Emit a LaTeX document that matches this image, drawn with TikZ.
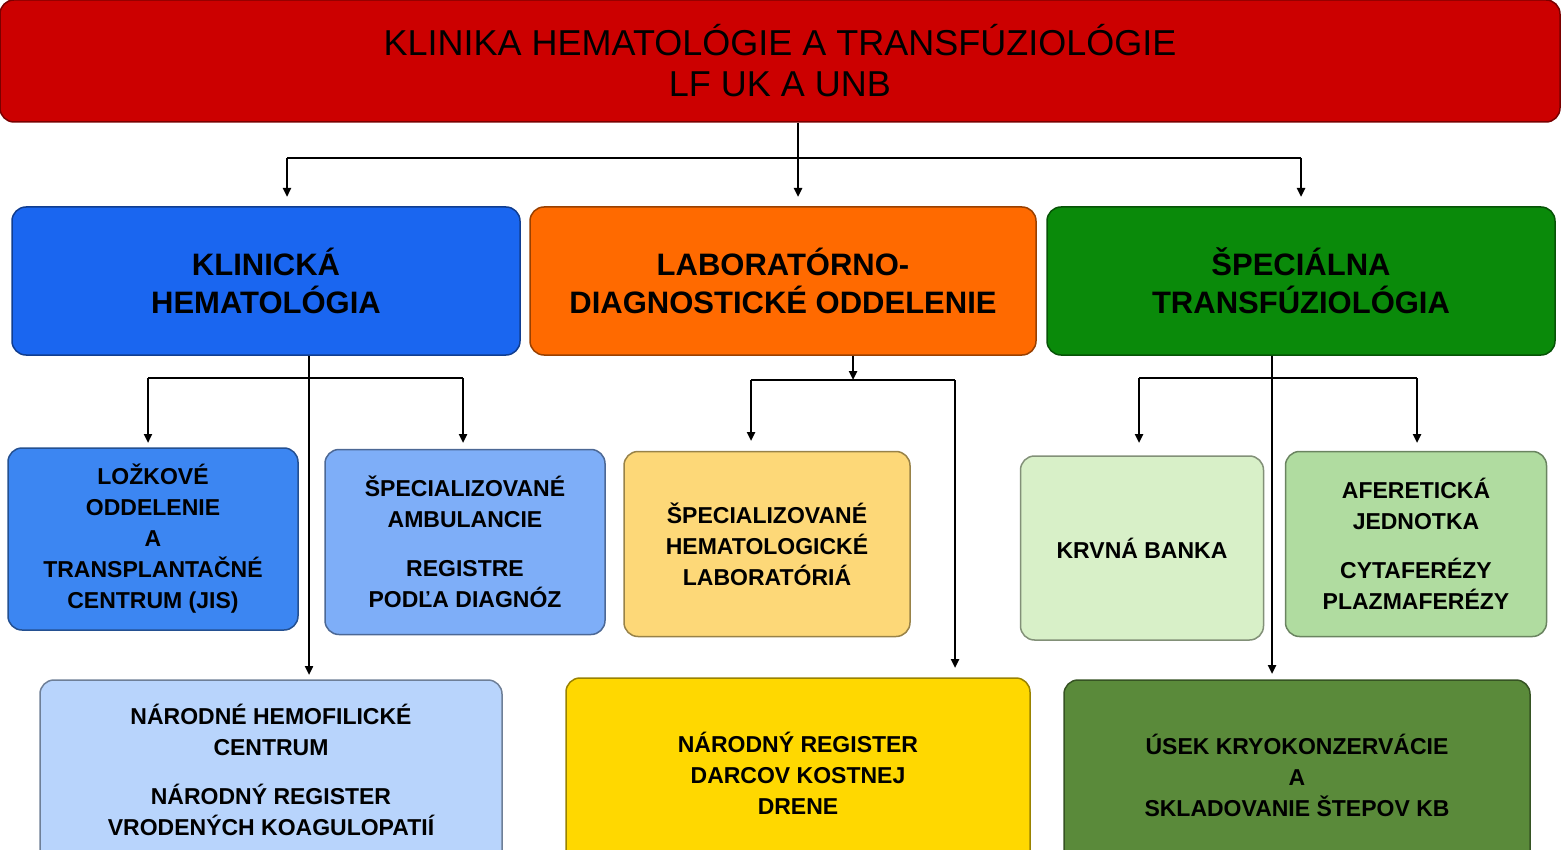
\documentclass[tikz,border=0pt]{standalone}
\usepackage{fontspec}
\setmainfont{Liberation Sans}
\usetikzlibrary{arrows.meta}
\definecolor{cred}{HTML}{CC0000}
\definecolor{cblue}{HTML}{1A66F0}
\definecolor{corange}{HTML}{FF6A00}
\definecolor{cgreen}{HTML}{0A8A0A}
\definecolor{cb1}{HTML}{3C86F2}
\definecolor{cb2}{HTML}{7EAEF8}
\definecolor{cb3}{HTML}{B8D4FC}
\definecolor{co1}{HTML}{FDD878}
\definecolor{co2}{HTML}{FFD800}
\definecolor{cg1}{HTML}{D8F0C8}
\definecolor{cg2}{HTML}{B0DCA0}
\definecolor{cg3}{HTML}{5A8A3A}
\begin{document}
\begin{tikzpicture}[x=1pt,y=-1pt,
 box/.style={draw=#1!60!black, line width=1.5pt, rounded corners=14pt, fill=#1, align=center, inner sep=0pt, text=black},
 l2/.style={font=\fontsize{31}{38}\selectfont\bfseries},
 l3/.style={font=\fontsize{23}{31}\selectfont\bfseries},
 con/.style={line width=2.5pt, black},
 arr/.style={con, -{Triangle[length=9pt,width=8pt]}}]
\useasboundingbox (0,0) rectangle (1563,850);
\node[box=cred, minimum width=1560, minimum height=122, font=\fontsize{36}{41}\selectfont] (top) at (780,61) {KLINIKA HEMATOLÓGIE A TRANSFÚZIOLÓGIE\\LF UK A UNB};
\node[box=cblue, l2, minimum width=508, minimum height=148] (kh) at (266,281) {KLINICKÁ\\HEMATOLÓGIA};
\node[box=corange, l2, minimum width=506, minimum height=148] (ld) at (783,281) {LABORATÓRNO-\\DIAGNOSTICKÉ ODDELENIE};
\node[box=cgreen, l2, minimum width=508, minimum height=148] (st) at (1301,281) {ŠPECIÁLNA\\TRANSFÚZIOLÓGIA};
\node[box=cb1, l3, minimum width=290, minimum height=182] (lo) at (153,539) {LOŽKOVÉ\\ODDELENIE\\A\\TRANSPLANTAČNÉ\\CENTRUM (JIS)};
\node[box=cb2, l3, minimum width=280, minimum height=185] (sa) at (465,542) {ŠPECIALIZOVANÉ\\AMBULANCIE\\[18pt]REGISTRE\\PODĽA DIAGNÓZ};
\node[box=co1, l3, minimum width=286, minimum height=185] (sl) at (767,544) {ŠPECIALIZOVANÉ\\HEMATOLOGICKÉ\\LABORATÓRIÁ};
\node[box=cg1, l3, minimum width=243, minimum height=184] (kb) at (1142,548) {KRVNÁ BANKA};
\node[box=cg2, l3, minimum width=261, minimum height=185] (af) at (1416,544) {AFERETICKÁ\\JEDNOTKA\\[18pt]CYTAFERÉZY\\PLAZMAFERÉZY};
\node[box=cb3, l3, minimum width=462, minimum height=190] (nh) at (271,775) {};
\node[l3, align=center] (nht) at (271,770) {NÁRODNÉ HEMOFILICKÉ\\CENTRUM\\[18pt]NÁRODNÝ REGISTER\\VRODENÝCH KOAGULOPATIÍ};
\node[box=co2, l3, minimum width=464, minimum height=190] (nr) at (798,773) {NÁRODNÝ REGISTER\\DARCOV KOSTNEJ\\DRENE};
\node[box=cg3, l3, minimum width=466, minimum height=190] (uk) at (1297,775) {ÚSEK KRYOKONZERVÁCIE\\A\\SKLADOVANIE ŠTEPOV KB};
% top connectors
\coordinate (h1) at (287,158); \coordinate (h2) at (1301,158); \coordinate (hm) at (798,158);
\draw[con] (h1) -- (h2);
\draw[arr] (top.south -| hm) -- (798,197);
\draw[arr] (h1) -- (287,197);
\draw[arr] (h2) -- (1301,197);
% blue
\coordinate (b1) at (148,378); \coordinate (b2) at (463,378);
\draw[arr] (kh.south -| 309,0) -- (309,675);
\draw[con] (b1) -- (b2);
\draw[arr] (b1) -- (148,443);
\draw[arr] (b2) -- (463,443);
% orange
\coordinate (o1) at (751,380); \coordinate (o2) at (955,380);
\draw[arr] (ld.south -| 853,0) -- (853,380);
\draw[con] (o1) -- (o2);
\draw[arr] (o1) -- (751,441);
\draw[arr] (o2) -- (955,668);
% green
\coordinate (g1) at (1139,378); \coordinate (g2) at (1417,378);
\draw[arr] (st.south -| 1272,0) -- (1272,674);
\draw[con] (g1) -- (g2);
\draw[arr] (g1) -- (1139,443);
\draw[arr] (g2) -- (1417,443);
\end{tikzpicture}
\end{document}
